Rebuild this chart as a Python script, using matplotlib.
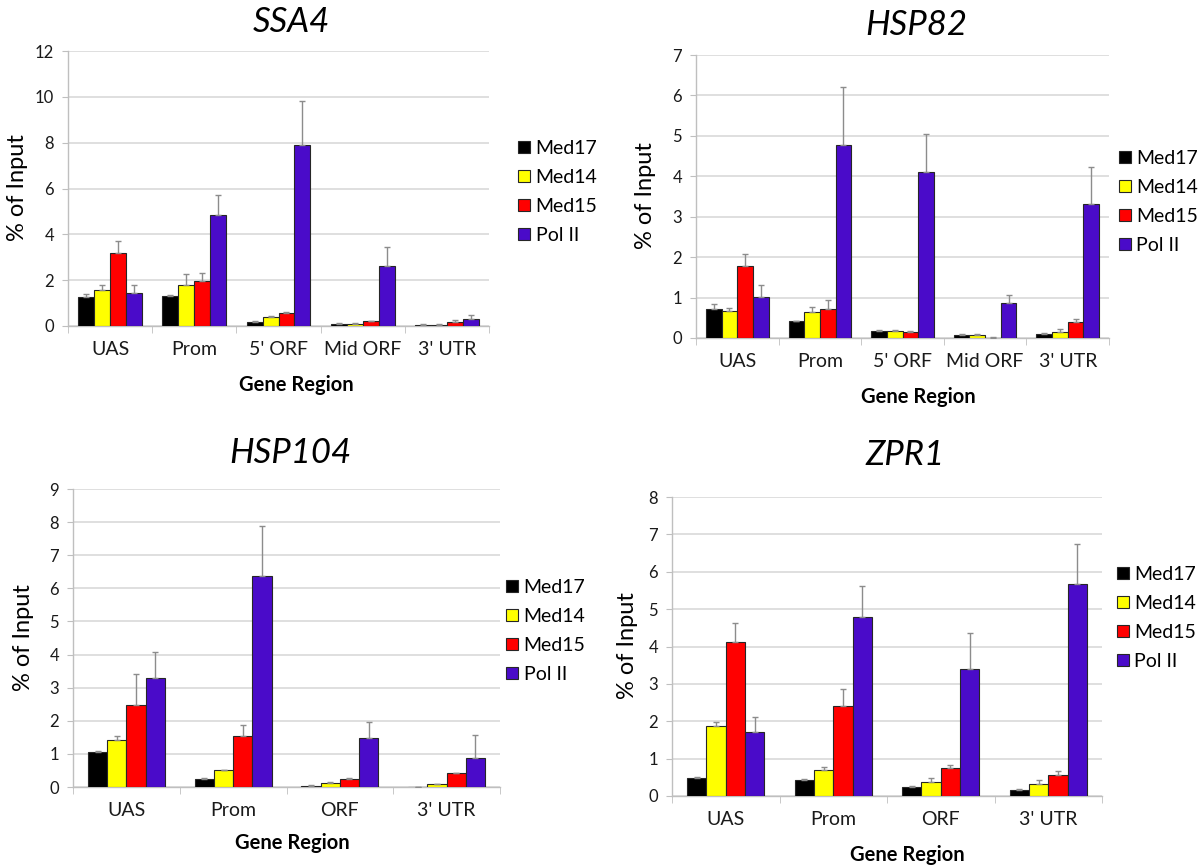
import matplotlib
matplotlib.use("Agg")
import matplotlib.pyplot as plt
import numpy as np

# factors and colours
factors = ["Med17", "Med14", "Med15", "Pol II"]
colors = ["#000000", "#ffff00", "#ff0000", "#4a0bc9"]

# SSA4
ssa4_regions = ["UAS", "Prom", "5' ORF", "Mid ORF", "3' UTR"]
ssa4_med17 = [1.25, 1.33, 0.17, 0.10, 0.06]
ssa4_med14 = [1.58, 1.77, 0.38, 0.10, 0.06]
ssa4_med15 = [3.18, 1.98, 0.55, 0.22, 0.18]
ssa4_pol2 = [1.43, 4.84, 7.90, 2.63, 0.31]
ssa4_med17_err = [0.15, 0.03, 0.03, 0.03, 0.02]
ssa4_med14_err = [0.22, 0.50, 0.04, 0.03, 0.02]
ssa4_med15_err = [0.52, 0.32, 0.07, 0.02, 0.07]
ssa4_pol2_err = [0.35, 0.86, 1.90, 0.82, 0.17]

# HSP82
hsp82_regions = ["UAS", "Prom", "5' ORF", "Mid ORF", "3' UTR"]
hsp82_med17 = [0.72, 0.41, 0.17, 0.07, 0.11]
hsp82_med14 = [0.67, 0.65, 0.18, 0.08, 0.16]
hsp82_med15 = [1.78, 0.71, 0.16, 0.01, 0.39]
hsp82_pol2 = [1.02, 4.78, 4.10, 0.87, 3.31]
hsp82_med17_err = [0.12, 0.02, 0.03, 0.02, 0.02]
hsp82_med14_err = [0.08, 0.11, 0.03, 0.02, 0.07]
hsp82_med15_err = [0.29, 0.24, 0.02, 0.01, 0.08]
hsp82_pol2_err = [0.30, 1.42, 0.95, 0.20, 0.91]

# HSP104
hsp104_regions = ["UAS", "Prom", "ORF", "3' UTR"]
hsp104_med17 = [1.05, 0.25, 0.04, 0.01]
hsp104_med14 = [1.41, 0.50, 0.12, 0.08]
hsp104_med15 = [2.48, 1.53, 0.25, 0.41]
hsp104_pol2 = [3.29, 6.37, 1.47, 0.89]
hsp104_med17_err = [0.03, 0.01, 0.01, 0.00]
hsp104_med14_err = [0.14, 0.01, 0.02, 0.01]
hsp104_med15_err = [0.92, 0.34, 0.03, 0.02]
hsp104_pol2_err = [0.79, 1.52, 0.50, 0.67]

# ZPR1
zpr1_regions = ["UAS", "Prom", "ORF", "3' UTR"]
zpr1_med17 = [0.49, 0.42, 0.24, 0.16]
zpr1_med14 = [1.86, 0.69, 0.38, 0.33]
zpr1_med15 = [4.12, 2.41, 0.74, 0.57]
zpr1_pol2 = [1.72, 4.79, 3.40, 5.67]
zpr1_med17_err = [0.02, 0.03, 0.02, 0.03]
zpr1_med14_err = [0.13, 0.09, 0.11, 0.09]
zpr1_med15_err = [0.51, 0.45, 0.08, 0.10]
zpr1_pol2_err = [0.40, 0.83, 0.95, 1.06]

W, H = 1201, 866


def fx(px):
    return px / W


def fy(py):
    return 1 - py / H


def draw_panel(fig, title, regions, values, errors, ymax, box, layout):
    left, top, right, bottom = box
    ax = fig.add_axes([fx(left), fy(bottom), fx(right - left), (bottom - top) / H])
    n = len(regions)
    x = np.arange(n)
    bw = 0.19 if n == 5 else 0.18
    for i, (vals, errs) in enumerate(zip(values, errors)):
        pos = x + (i - 1.5) * bw
        ax.bar(pos, vals, bw, color=colors[i], edgecolor="#262626",
               linewidth=0.8, label=factors[i], zorder=3)
        ax.errorbar(pos, vals, yerr=[np.zeros(n), errs], fmt="none",
                    ecolor="#8c8c8c", elinewidth=1, capsize=2.5,
                    capthick=1, zorder=4)
    ax.set_xlim(-0.5, n - 0.5)
    ax.set_ylim(0, ymax)
    ax.set_yticks(np.arange(0, ymax + 1, 2 if ymax == 12 else 1))
    ax.set_xticks(x)
    ax.set_xticklabels(regions, fontsize=14)
    ax.set_xticks(np.arange(-0.5, n, 1), minor=True)
    ax.tick_params(axis="x", which="major", length=0, pad=11, colors="#1a1a1a")
    ax.tick_params(axis="x", which="minor", length=5, color="#bfbfbf")
    ax.tick_params(axis="y", length=4, color="#bfbfbf", pad=6,
                   labelsize=12, labelcolor="#1a1a1a")
    ax.grid(axis="y", color="#d9d9d9", linewidth=1.2, zorder=0)
    for s in ["top", "right"]:
        ax.spines[s].set_visible(False)
    for s in ["left", "bottom"]:
        ax.spines[s].set_color("#bfbfbf")
        ax.spines[s].set_linewidth(1)
    ax.set_axisbelow(True)

    tx, ty, gx, gy, lx, ly, legx, legy = layout
    fig.text(fx(tx), fy(ty), title, fontsize=25, style="italic",
             ha="center", va="center", color="#000000")
    fig.text(fx(gx), fy(gy), "Gene Region", fontsize=14.5, fontweight="bold",
             ha="center", va="center", color="#000000")
    fig.text(fx(lx), fy(ly), "% of Input", fontsize=17, rotation=90,
             ha="center", va="center", color="#000000")
    handles, labels = ax.get_legend_handles_labels()
    fig.legend(handles, labels, loc="upper left",
               bbox_to_anchor=(fx(legx), fy(legy)), frameon=False,
               fontsize=14, handlelength=0.6, handleheight=0.6,
               handletextpad=0.3, labelspacing=0.62, borderpad=0,
               borderaxespad=0)
    return ax


def main():
    plt.rcParams["font.family"] = ["Lato", "DejaVu Sans"]
    fig = plt.figure(figsize=(W / 100, H / 100), dpi=100)

    draw_panel(fig, "SSA4", ssa4_regions,
               [ssa4_med17, ssa4_med14, ssa4_med15, ssa4_pol2],
               [ssa4_med17_err, ssa4_med14_err, ssa4_med15_err, ssa4_pol2_err],
               12, (68, 51, 489, 326),
               (291, 22, 296, 385, 18, 188, 518, 140))
    draw_panel(fig, "HSP82", hsp82_regions,
               [hsp82_med17, hsp82_med14, hsp82_med15, hsp82_pol2],
               [hsp82_med17_err, hsp82_med14_err, hsp82_med15_err, hsp82_pol2_err],
               7, (696, 55, 1109, 338),
               (916, 25, 918, 397, 645, 196, 1119, 150))
    draw_panel(fig, "HSP104", hsp104_regions,
               [hsp104_med17, hsp104_med14, hsp104_med15, hsp104_pol2],
               [hsp104_med17_err, hsp104_med14_err, hsp104_med15_err, hsp104_pol2_err],
               9, (73, 489, 500, 787),
               (290, 453, 292, 843, 23, 638, 506, 579))
    draw_panel(fig, "ZPR1", zpr1_regions,
               [zpr1_med17, zpr1_med14, zpr1_med15, zpr1_pol2],
               [zpr1_med17_err, zpr1_med14_err, zpr1_med15_err, zpr1_pol2_err],
               8, (672, 497, 1102, 796),
               (905, 455, 907, 855, 628, 646, 1117, 566))

    fig.savefig("out.png", dpi=100)


if __name__ == "__main__":
    main()
